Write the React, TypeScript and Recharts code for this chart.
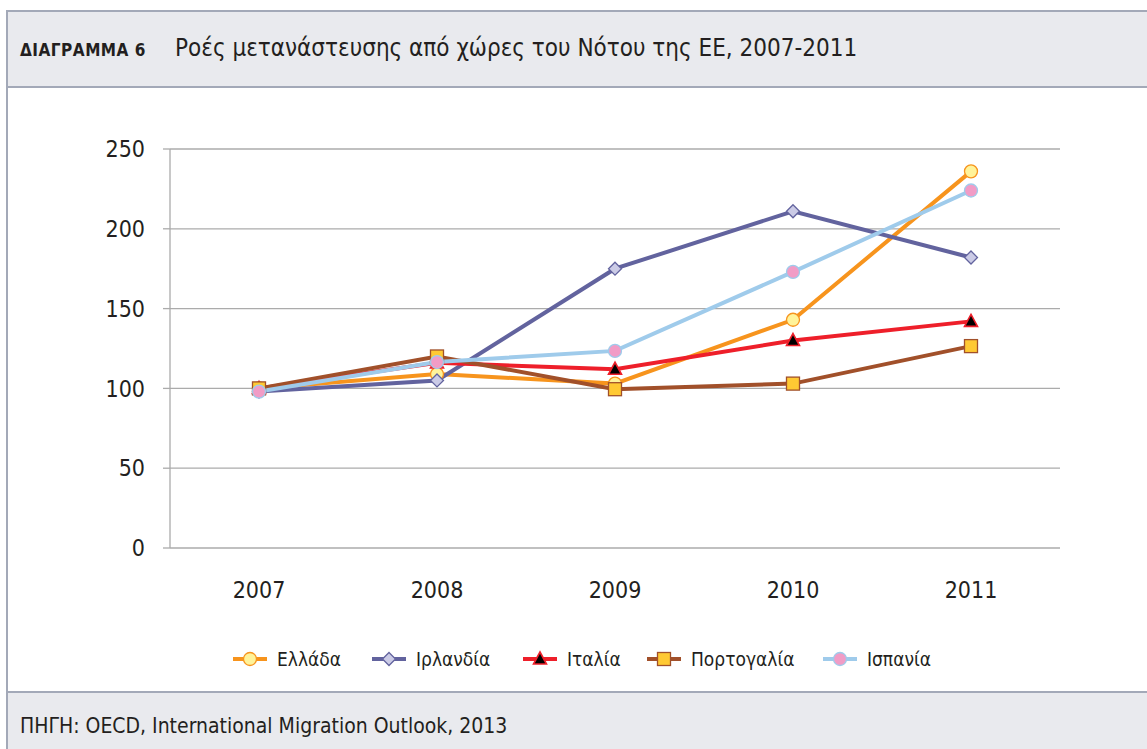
import React from "react";
import { LineChart, Line, XAxis, YAxis, CartesianGrid } from "recharts";

const years = ["2007", "2008", "2009", "2010", "2011"];
const greece = [100, 109, 103, 143, 236];
const ireland = [98, 105, 175, 211, 182];
const italy = [100, 116, 112, 130, 142];
const portugal = [100, 120, 99.5, 103, 126.5];
const spain = [98, 116.5, 123.5, 173, 224];
const yTicks = [0, 50, 100, 150, 200, 250];
const boundaryTicks = [-0.5, 0.5, 1.5, 2.5, 3.5, 4.5];

const FONT = '"Liberation Sans Narrow", "DejaVu Sans Condensed", "Roboto", sans-serif';
const GRID = "#ABABAB";

type Marker = "circle" | "diamond" | "triangle" | "square";

const series = [
  { key: "gr", name: "Ελλάδα", values: greece, color: "#F7941D", fill: "#FFF39A", marker: "circle" as Marker },
  { key: "ie", name: "Ιρλανδία", values: ireland, color: "#62639E", fill: "#CBCBE6", marker: "diamond" as Marker },
  { key: "it", name: "Ιταλία", values: italy, color: "#EE1F2A", fill: "#000000", marker: "triangle" as Marker },
  { key: "pt", name: "Πορτογαλία", values: portugal, color: "#A1502A", fill: "#FFC933", marker: "square" as Marker },
  { key: "es", name: "Ισπανία", values: spain, color: "#9FCBEB", fill: "#F19CC6", marker: "circle" as Marker },
];

// legend item x positions (icon left edge)
const legendX = [232, 371, 522, 646, 822];

const data = years.map((year, i) => {
  const row: Record<string, any> = { idx: i, year };
  series.forEach((s) => {
    row[s.key] = s.values[i];
  });
  return row;
});

function markerShape(kind: Marker, cx: number, cy: number, fill: string, stroke: string, key?: string) {
  switch (kind) {
    case "diamond":
      return (
        <polygon
          key={key}
          points={`${cx},${cy - 6.5} ${cx + 6.5},${cy} ${cx},${cy + 6.5} ${cx - 6.5},${cy}`}
          fill={fill}
          stroke={stroke}
          strokeWidth={1.3}
        />
      );
    case "triangle":
      return (
        <polygon
          key={key}
          points={`${cx},${cy - 7} ${cx + 6.5},${cy + 5} ${cx - 6.5},${cy + 5}`}
          fill={fill}
          stroke={stroke}
          strokeWidth={1.6}
        />
      );
    case "square":
      return (
        <rect key={key} x={cx - 6.5} y={cy - 6.5} width={13} height={13} fill={fill} stroke={stroke} strokeWidth={1.3} />
      );
    default:
      return <circle key={key} cx={cx} cy={cy} r={6.5} fill={fill} stroke={stroke} strokeWidth={1.3} />;
  }
}

function LegendItem({ s, x }: { s: (typeof series)[number]; x: number }) {
  return (
    <div style={{ position: "absolute", left: x, top: 648, display: "flex", alignItems: "center" }}>
      <svg width={36} height={20} style={{ marginRight: 9 }}>
        <line x1={1} y1={10} x2={35} y2={10} stroke={s.color} strokeWidth={4} />
        {markerShape(s.marker, 18, 10, s.fill, s.color)}
      </svg>
      <span style={{ fontSize: 19 }}>{s.name}</span>
    </div>
  );
}

export default function App() {
  return (
    <div
      style={{
        position: "absolute",
        left: 0,
        top: 0,
        width: 1147,
        height: 749,
        background: "#FFFFFF",
        overflow: "hidden",
        fontFamily: FONT,
        color: "#231F20",
      }}
    >
      {/* frame */}
      <div
        style={{
          position: "absolute",
          left: 6,
          top: 10,
          width: 1160,
          height: 760,
          borderLeft: "2px solid #A3A9B8",
          borderTop: "2px solid #A3A9B8",
          boxSizing: "border-box",
        }}
      />
      {/* header */}
      <div
        style={{
          position: "absolute",
          left: 8,
          top: 12,
          width: 1160,
          height: 74,
          background: "#E9EAEE",
          borderBottom: "2px solid #A3A9B8",
        }}
      >
        <span style={{ position: "absolute", left: 12, top: 28, fontWeight: 700, fontSize: 17, letterSpacing: 0.5 }}>
          ΔΙΑΓΡΑΜΜΑ 6
        </span>
        <span style={{ position: "absolute", left: 167, top: 22, fontSize: 24 }}>
          Ροές μετανάστευσης από χώρες του Νότου της ΕΕ, 2007-2011
        </span>
      </div>
      {/* footer */}
      <div
        style={{
          position: "absolute",
          left: 8,
          top: 691,
          width: 1160,
          height: 70,
          background: "#E9EAEE",
          borderTop: "2px solid #A3A9B8",
        }}
      >
        <div style={{ position: "absolute", left: 12, top: 21, fontSize: 21 }}>
          ΠΗΓΗ: OECD, International Migration Outlook, 2013
        </div>
      </div>

      <div style={{ position: "absolute", left: 0, top: 0 }}>
        <LineChart
          width={1147}
          height={749}
          data={data}
          margin={{ top: 149, right: 87, left: 110, bottom: 161 }}
        >
          <CartesianGrid horizontal vertical={false} stroke={GRID} strokeWidth={1.3} />
          <XAxis
            xAxisId="marks"
            type="number"
            dataKey="idx"
            domain={[-0.5, 4.5]}
            ticks={boundaryTicks}
            tick={false}
            tickSize={8}
            height={0}
            axisLine={{ stroke: GRID, strokeWidth: 1.3 }}
            tickLine={{ stroke: GRID, strokeWidth: 1.3 }}
          />
          <XAxis
            xAxisId="main"
            type="number"
            dataKey="idx"
            domain={[-0.5, 4.5]}
            ticks={[0, 1, 2, 3, 4]}
            tickFormatter={(v: number) => years[v]}
            tickLine={false}
            axisLine={false}
            tickSize={0}
            tickMargin={34}
            height={40}
            tick={{ fill: "#231F20", fontSize: 23, fontFamily: FONT }}
            interval={0}
          />
          <YAxis
            type="number"
            domain={[0, 250]}
            ticks={yTicks}
            width={60}
            tickSize={7}
            tickMargin={18}
            axisLine={{ stroke: GRID, strokeWidth: 1.3 }}
            tickLine={{ stroke: GRID, strokeWidth: 1.3 }}
            tick={{ fill: "#231F20", fontSize: 23, fontFamily: FONT }}
            interval={0}
          />
          {series.map((s) => (
            <Line
              key={s.key}
              xAxisId="main"
              dataKey={s.key}
              name={s.name}
              type="linear"
              stroke={s.color}
              strokeWidth={4}
              isAnimationActive={false}
              dot={(p: any) => markerShape(s.marker, p.cx, p.cy, s.fill, s.color, `${s.key}-${p.index}`)}
              activeDot={false}
            />
          ))}
        </LineChart>
      </div>

      {/* legend */}
      {series.map((s, i) => (
        <LegendItem key={s.key} s={s} x={legendX[i]} />
      ))}
    </div>
  );
}
